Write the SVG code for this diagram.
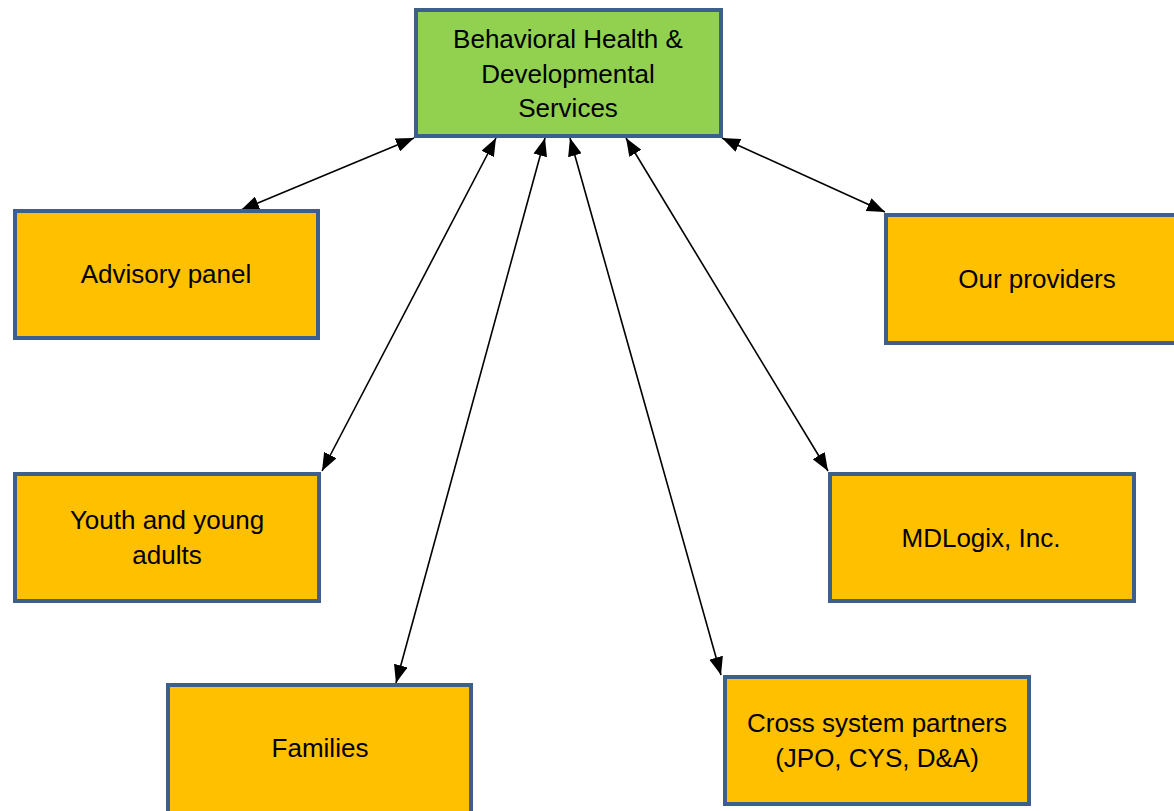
<svg xmlns="http://www.w3.org/2000/svg" width="1174" height="811" viewBox="0 0 1174 811">
<defs>
<marker id="ah" markerUnits="userSpaceOnUse" markerWidth="19" markerHeight="14" refX="18" refY="7" orient="auto-start-reverse">
<path d="M0,0 L18,7 L0,14 z" fill="#000"/>
</marker>
<style>
.box{fill:#FFC000;stroke:#3C5F8C;stroke-width:4}
.top{fill:#92D050;stroke:#3C5F8C;stroke-width:4}
.t{font-family:"Liberation Sans",Arial,sans-serif;font-size:26px;fill:#000;text-anchor:middle}
.c{stroke:#000;stroke-width:1.6;fill:none;marker-start:url(#ah);marker-end:url(#ah)}
</style>
</defs>
<rect width="1174" height="811" fill="#fff"/>
<g id="connectors">
<line class="c" x1="414" y1="138" x2="241" y2="210"/>
<line class="c" x1="496" y1="138" x2="322" y2="471"/>
<line class="c" x1="545" y1="138" x2="396" y2="683"/>
<line class="c" x1="570" y1="138" x2="721" y2="675"/>
<line class="c" x1="626" y1="138" x2="828" y2="471"/>
<line class="c" x1="722" y1="138" x2="885" y2="212"/>
</g>
<g id="bhds">
<rect class="top" x="416" y="10" width="305" height="126"/>
<text class="t" x="568" y="48">Behavioral Health &amp;</text>
<text class="t" x="568" y="83">Developmental</text>
<text class="t" x="568" y="117">Services</text>
</g>
<g id="advisory">
<rect class="box" x="15" y="211" width="303" height="127"/>
<text class="t" x="166" y="283">Advisory panel</text>
</g>
<g id="providers">
<rect class="box" x="886" y="215" width="292" height="128"/>
<text class="t" x="1037" y="288">Our providers</text>
</g>
<g id="youth">
<rect class="box" x="15" y="474" width="304" height="127"/>
<text class="t" x="167" y="529">Youth and young</text>
<text class="t" x="167" y="564">adults</text>
</g>
<g id="mdlogix">
<rect class="box" x="830" y="474" width="304" height="127"/>
<text class="t" x="981" y="547">MDLogix, Inc.</text>
</g>
<g id="families">
<rect class="box" x="168" y="685" width="303" height="130"/>
<text class="t" x="320" y="757">Families</text>
</g>
<g id="cross">
<rect class="box" x="725" y="677" width="304" height="127"/>
<text class="t" x="877" y="732">Cross system partners</text>
<text class="t" x="877" y="767">(JPO, CYS, D&amp;A)</text>
</g>
</svg>
